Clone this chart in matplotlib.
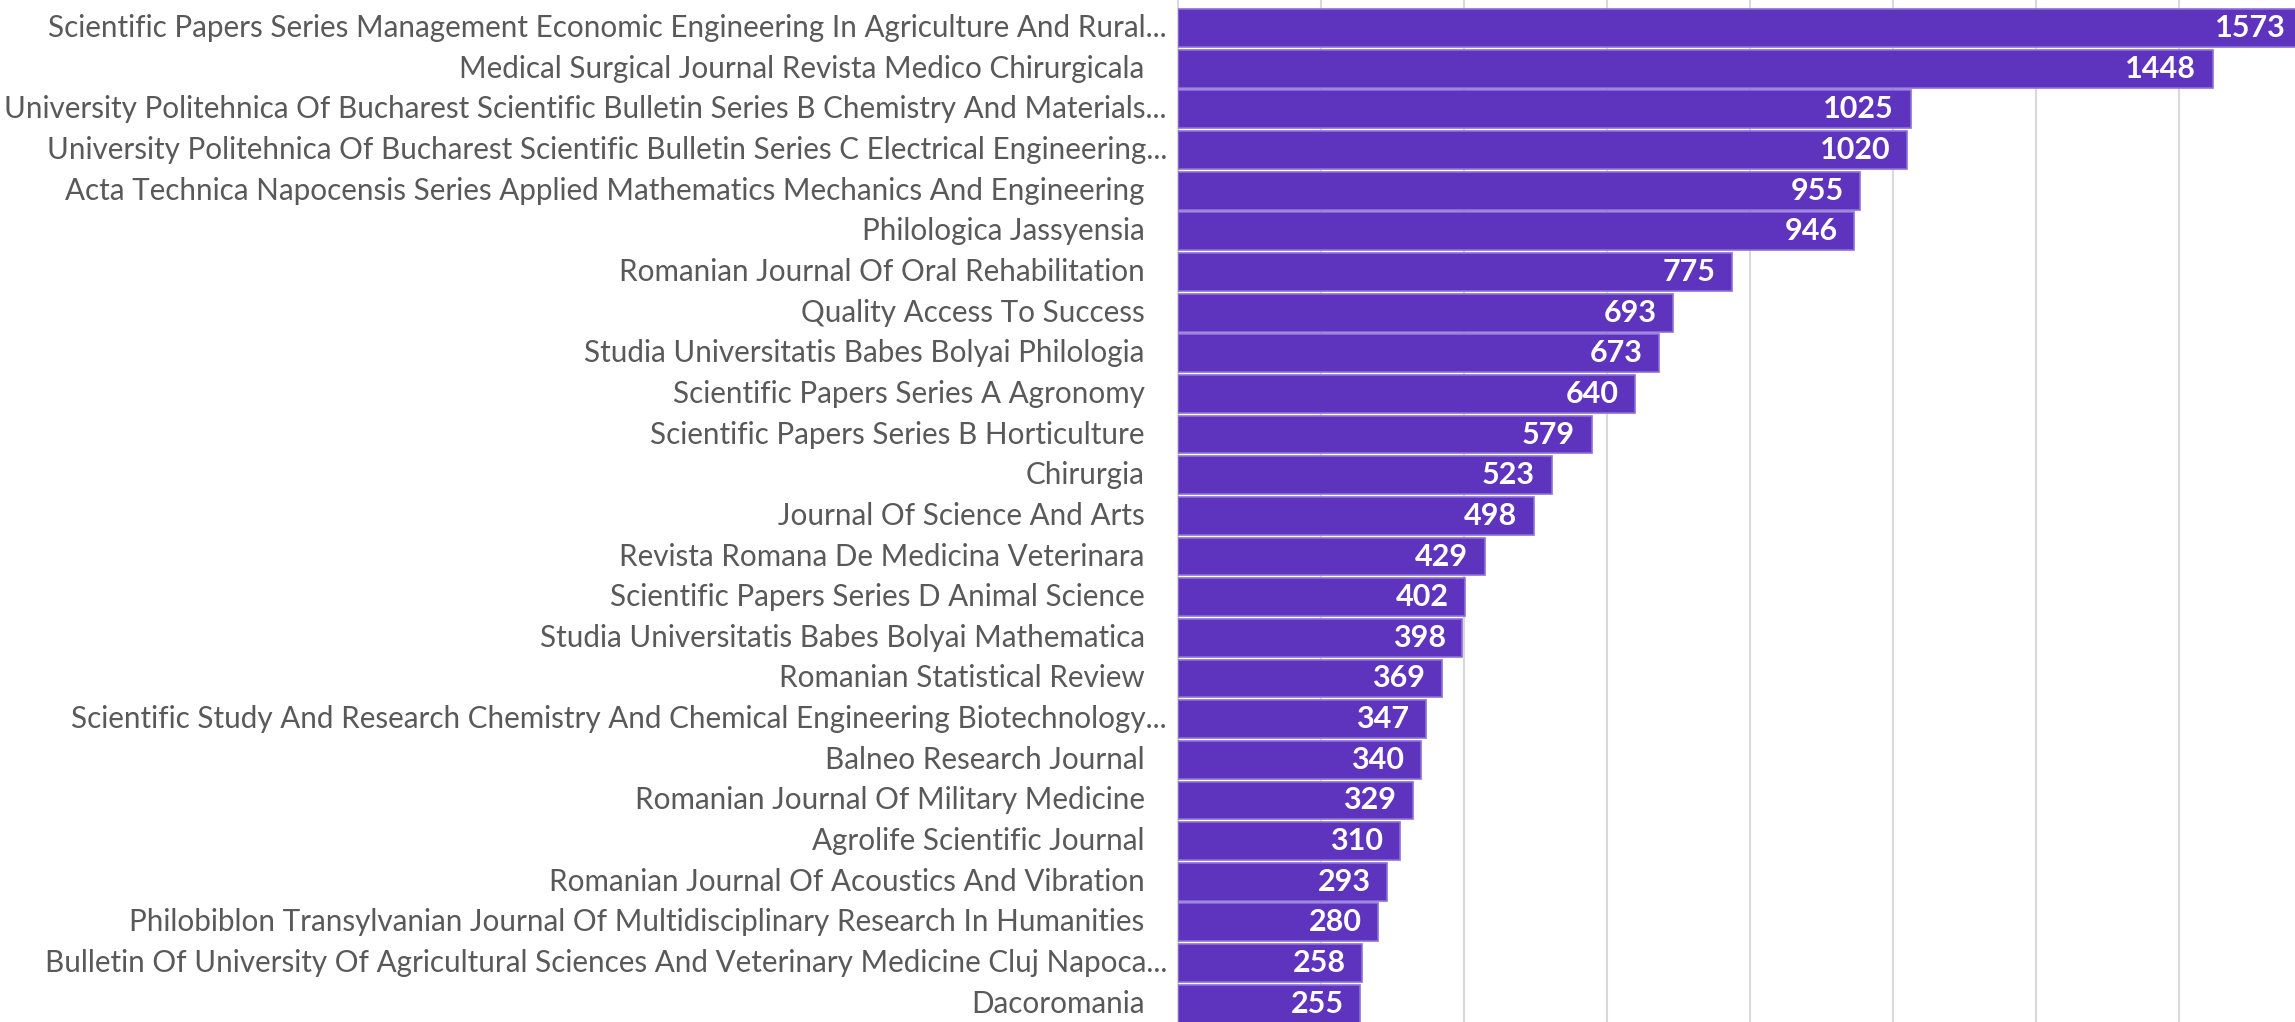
import matplotlib
matplotlib.use('Agg')
import matplotlib.pyplot as plt

# journal names (top to bottom) and their counts
journals = [
    "Scientific Papers Series Management Economic Engineering In Agriculture And Rural...",
    "Medical Surgical Journal Revista Medico Chirurgicala ",
    "University Politehnica Of Bucharest Scientific Bulletin Series B Chemistry And Materials...",
    "University Politehnica Of Bucharest Scientific Bulletin Series C Electrical Engineering...",
    "Acta Technica Napocensis Series Applied Mathematics Mechanics And Engineering ",
    "Philologica Jassyensia ",
    "Romanian Journal Of Oral Rehabilitation ",
    "Quality Access To Success ",
    "Studia Universitatis Babes Bolyai Philologia ",
    "Scientific Papers Series A Agronomy ",
    "Scientific Papers Series B Horticulture ",
    "Chirurgia ",
    "Journal Of Science And Arts ",
    "Revista Romana De Medicina Veterinara ",
    "Scientific Papers Series D Animal Science ",
    "Studia Universitatis Babes Bolyai Mathematica ",
    "Romanian Statistical Review ",
    "Scientific Study And Research Chemistry And Chemical Engineering Biotechnology...",
    "Balneo Research Journal ",
    "Romanian Journal Of Military Medicine ",
    "Agrolife Scientific Journal ",
    "Romanian Journal Of Acoustics And Vibration ",
    "Philobiblon Transylvanian Journal Of Multidisciplinary Research In Humanities ",
    "Bulletin Of University Of Agricultural Sciences And Veterinary Medicine Cluj Napoca...",
    "Dacoromania ",
]
counts = [1573, 1448, 1025, 1020, 955, 946, 775, 693, 673, 640, 579, 523, 498,
          429, 402, 398, 369, 347, 340, 329, 310, 293, 280, 258, 255]

bar_color = '#5E34BF'
edge_color = '#8E6FD8'
text_color = '#595959'

fig = plt.figure(figsize=(22.95, 10.22), dpi=100)
ax = fig.add_axes([1178 / 2295, 0, 1 - 1178 / 2295, 1])

pos = list(range(len(journals)))
ax.barh(pos, counts, height=0.93, color=bar_color, edgecolor=edge_color,
        linewidth=1.2, zorder=3)

# value labels inside the bar ends
for y, v in zip(pos, counts):
    ax.annotate(str(v), xy=(v, y), xytext=(-12, 0), textcoords='offset points',
                ha='right', va='center', color='white', fontsize=22,
                fontweight='bold', family='Lato', zorder=4,
                annotation_clip=False)

# category labels; matplotlib drops trailing spaces, so push those further left
trans = ax.get_yaxis_transform()
for y, name in zip(pos, journals):
    off = -8 - (16 if name.endswith(' ') else 0)
    ax.annotate(name.strip(), xy=(0, y), xycoords=trans, xytext=(off, 0),
                textcoords='offset points', ha='right', va='center',
                fontsize=21.3, color=text_color, family='Lato',
                annotation_clip=False)

ax.set_yticks([])
ax.set_ylim(24.45, -0.69)
ax.set_xlim(0, 1563)
ax.set_xticks(range(200, 1600, 200))
ax.xaxis.grid(True, color='#d9d9d9', linewidth=1.5, zorder=0)
ax.tick_params(axis='x', length=0, labelbottom=False)
for s in ['top', 'right', 'bottom']:
    ax.spines[s].set_visible(False)
ax.spines['left'].set_color('#d9d9d9')
ax.spines['left'].set_linewidth(1.5)

fig.savefig('out.png', dpi=100)
